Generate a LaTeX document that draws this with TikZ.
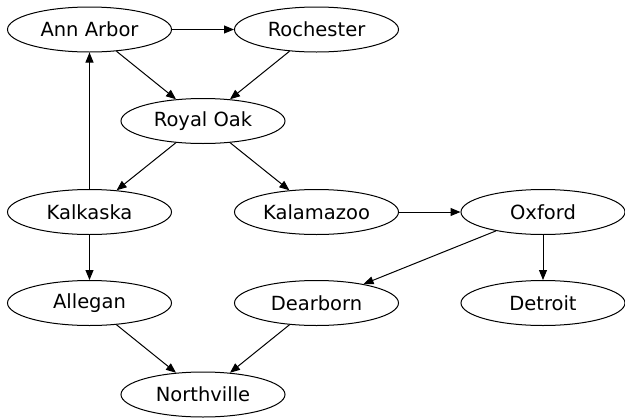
\documentclass[tikz,border=0pt]{standalone}
\usepackage{fontspec}
\setmainfont{DejaVu Sans}
\usetikzlibrary{shapes.geometric,arrows.meta}
\begin{document}
\begin{tikzpicture}[x=1pt,y=-1pt,
  city/.style={draw,ellipse,line width=1pt,minimum width=164pt,minimum height=45pt,inner sep=0pt,
    font=\fontsize{19.5}{23}\selectfont},
  link/.style={draw,line width=1pt,-{Triangle[length=10pt,width=8pt]}}]
\useasboundingbox (0,0) rectangle (625,418);
\node[city] (ann) at (89.5,29.5) {Ann Arbor};
\node[city] (roc) at (316.5,29.5) {Rochester};
\node[city] (roy) at (203,121) {Royal Oak};
\node[city] (kal) at (89.5,212) {Kalkaska};
\node[city] (kzo) at (316.5,212) {Kalamazoo};
\node[city] (oxf) at (543,212) {Oxford};
\node[city] (all) at (89.5,303) {Allegan};
\node[city] (dea) at (316.5,303) {Dearborn};
\node[city] (det) at (543,303) {Detroit};
\node[city] (nor) at (203,394.5) {Northville};
\draw[link] (ann) -- (roc);
\draw[link] (ann) -- (roy);
\draw[link] (roc) -- (roy);
\draw[link] (roy) -- (kal);
\draw[link] (roy) -- (kzo);
\draw[link] (kal) -- (ann);
\draw[link] (kal) -- (all);
\draw[link] (kzo) -- (oxf);
\draw[link] (oxf) -- (dea);
\draw[link] (oxf) -- (det);
\draw[link] (all) -- (nor);
\draw[link] (dea) -- (nor);
\end{tikzpicture}
\end{document}
